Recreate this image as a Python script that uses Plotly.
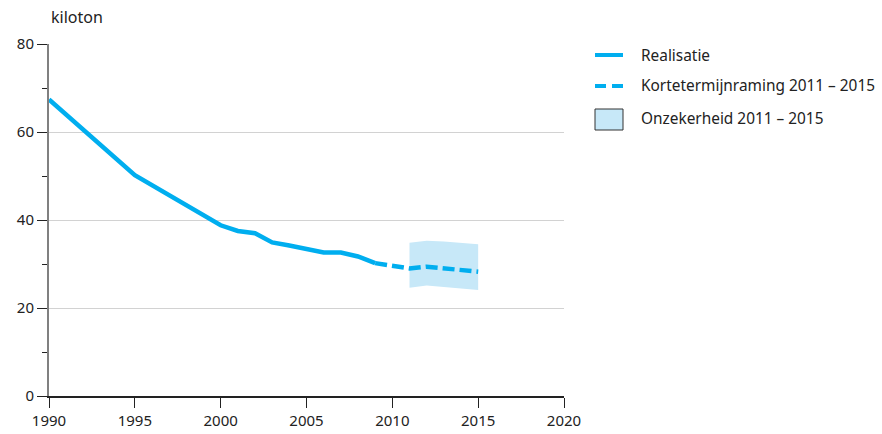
import plotly.graph_objects as go

# Data
years_real = [1990, 1995, 2000, 2001, 2002, 2003, 2004, 2005, 2006, 2007, 2008, 2009]
values_real = [67.4, 50.2, 38.8, 37.5, 37.0, 34.9, 34.2, 33.3, 32.6, 32.6, 31.7, 30.2]

years_proj = [2009, 2010, 2011, 2012, 2013, 2014, 2015]
values_proj = [30.2, 29.6, 29.0, 29.4, 29.0, 28.6, 28.25]

years_band = [2011, 2012, 2013, 2014, 2015]
band_upper = [34.85, 35.3, 35.1, 34.8, 34.5]
band_lower = [24.6, 25.1, 24.8, 24.4, 24.1]

legend_labels = ["Realisatie", "Kortetermijnraming 2011 – 2015", "Onzekerheid 2011 – 2015"]

BLUE = "#00aeef"
BAND = "#c7e8f8"
FONT = "Noto Sans"
TXT = "#222222"

fig = go.Figure()

fig.add_trace(go.Scatter(
    x=years_band + years_band[::-1],
    y=band_upper + band_lower[::-1],
    fill="toself", fillcolor=BAND, line=dict(width=0), mode="lines",
    hoverinfo="skip", showlegend=False))

fig.add_trace(go.Scatter(
    x=years_real, y=values_real, mode="lines",
    line=dict(color=BLUE, width=4.5), showlegend=False))

fig.add_trace(go.Scatter(
    x=years_proj, y=values_proj, mode="lines",
    line=dict(color=BLUE, width=4.5, dash="12px,5px"), showlegend=False))

# Manual legend (paper coordinates)
L, R, T, B = 49, 564, 44, 396
def px(x):
    return (x - L) / (R - L)
def py(y):
    return (B - y) / (B - T)

shapes = []
shapes.append(dict(type="line", xref="paper", yref="paper",
                   x0=px(595), x1=px(623), y0=py(55), y1=py(55),
                   line=dict(color=BLUE, width=4)))
shapes.append(dict(type="line", xref="paper", yref="paper",
                   x0=px(595), x1=px(606), y0=py(86), y1=py(86),
                   line=dict(color=BLUE, width=4)))
shapes.append(dict(type="line", xref="paper", yref="paper",
                   x0=px(612), x1=px(623), y0=py(86), y1=py(86),
                   line=dict(color=BLUE, width=4)))
shapes.append(dict(type="rect", xref="paper", yref="paper",
                   x0=px(595), x1=px(623), y0=py(130), y1=py(109),
                   fillcolor=BAND, line=dict(color="#333333", width=1)))

annotations = []
for lab, yy in zip(legend_labels, [55, 86, 119]):
    annotations.append(dict(text=lab, xref="paper", yref="paper",
                            x=px(639), y=py(yy), xanchor="left", yanchor="middle",
                            showarrow=False, font=dict(family=FONT, size=15.4, color=TXT)))
annotations.append(dict(text="kiloton", xref="paper", yref="paper",
                        x=px(49), y=py(17), xanchor="left", yanchor="middle",
                        showarrow=False, font=dict(family=FONT, size=16, color=TXT)))

fig.update_layout(
    width=882, height=434,
    margin=dict(l=L, r=882 - R, t=T, b=434 - B),
    paper_bgcolor="white", plot_bgcolor="white",
    font=dict(family=FONT, size=14, color=TXT),
    shapes=shapes, annotations=annotations,
    showlegend=False,
    xaxis=dict(range=[1990, 2020], tick0=1990, dtick=5, showgrid=False,
               ticks="outside", ticklen=10, tickwidth=1.3, tickcolor="#222222",
               showline=True, linecolor="#222222", linewidth=1.5, zeroline=False,
               automargin=False,
               tickfont=dict(size=15, color=TXT)),
    yaxis=dict(range=[0, 80], tick0=0, dtick=20, showgrid=True, gridcolor="#d2d2d2",
               gridwidth=1, ticks="outside", ticklen=10, tickwidth=1.3, tickcolor="#222222",
               showline=True, linecolor="#808080", linewidth=2, zeroline=False,
               automargin=False,
               minor=dict(dtick=10, ticks="outside", ticklen=5, tickcolor="#222222",
                          showgrid=False),
               tickfont=dict(size=15, color=TXT)),
)

fig.write_html("out.html", config={"displayModeBar": False},
               post_script="document.body.style.margin='0';document.body.style.overflow='hidden';")
